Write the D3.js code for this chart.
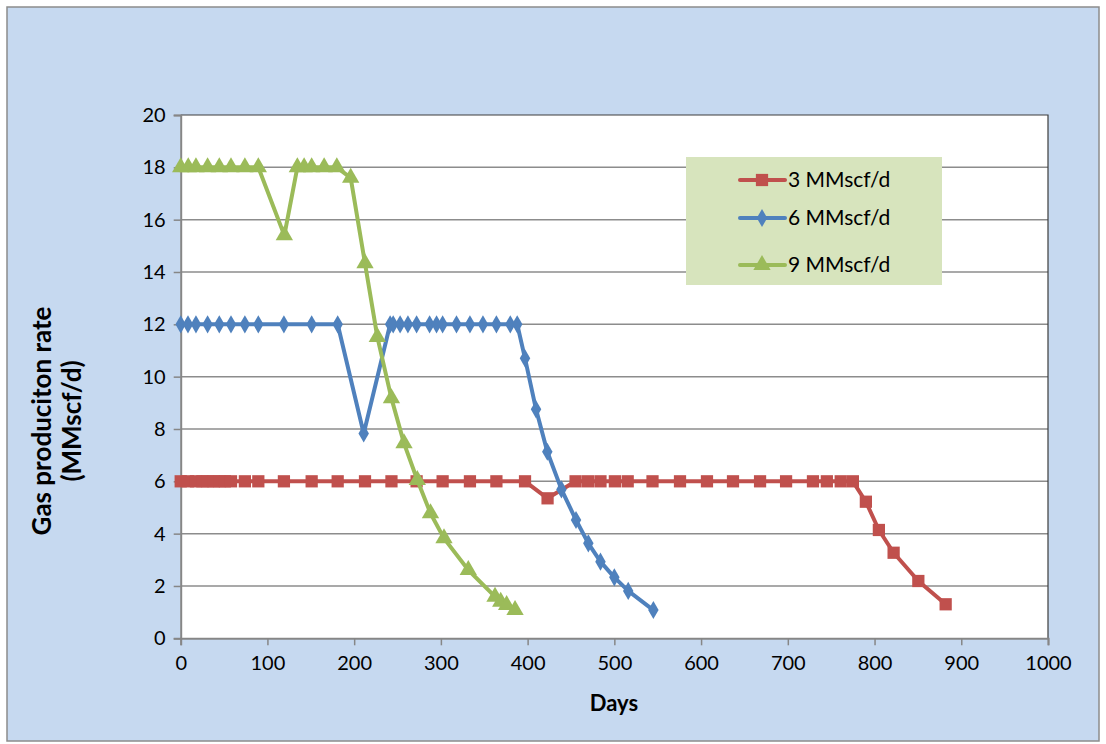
<!DOCTYPE html>
<html>
<head>
<meta charset="utf-8">
<script src="https://cdn.jsdelivr.net/npm/d3@7"></script>
<style>
  html, body { margin: 0; padding: 0; background: #ffffff; }
  svg { display: block; }
  text { font-family: Lato, "Open Sans", "Liberation Sans", sans-serif; fill: #000; }
</style>
</head>
<body>
<script>
// Production rate vs time for three target rates
const seriesNames = ["3 MMscf/d", "6 MMscf/d", "9 MMscf/d"];

const daysA = [0, 8.4, 17.6, 25, 31, 38, 44.5, 51, 58, 74, 89.5, 119, 151, 181, 212.5, 243, 272, 302, 333.5, 364, 397, 423, 455.3, 469.6, 484, 500.6, 515.4, 544, 575.7, 606.8, 636.8, 668, 698, 729, 745, 761, 775, 790, 805, 822, 850.5, 882];
const rateA = [6, 6, 6, 6, 6, 6, 6, 6, 6, 6, 6, 6, 6, 6, 6, 6, 6, 6, 6, 6, 6, 5.35, 6, 6, 6, 6, 6, 6, 6, 6, 6, 6, 6, 6, 6, 6, 6, 5.22, 4.14, 3.27, 2.19, 1.3];

const daysB = [0, 8.4, 17.6, 31, 44.5, 58, 74, 89.5, 119, 151, 181, 211, 241.5, 245, 253, 262, 272, 287, 295, 302, 318, 333.5, 348.5, 364, 380, 388, 397, 409.7, 422.7, 439, 455.8, 470, 484, 500, 516, 545];
const rateB = [12, 12, 12, 12, 12, 12, 12, 12, 12, 12, 12, 7.83, 12, 12, 12, 12, 12, 12, 12, 12, 12, 12, 12, 12, 12, 12, 10.7, 8.75, 7.13, 5.69, 4.52, 3.63, 2.93, 2.33, 1.81, 1.08];

const daysC = [0, 8.7, 17.6, 31, 44.5, 58, 74, 89.5, 119.5, 134.5, 142.3, 151, 165.4, 180, 196, 212.5, 226.7, 243, 257.5, 272.8, 288, 303.6, 331.6, 362.4, 369, 375.8, 385.5];
const rateC = [18, 18, 18, 18, 18, 18, 18, 18, 15.4, 18, 18, 18, 18, 18, 17.6, 14.33, 11.52, 9.17, 7.45, 6.05, 4.78, 3.82, 2.61, 1.59, 1.4, 1.27, 1.08];

const xTicks = [0, 100, 200, 300, 400, 500, 600, 700, 800, 900, 1000];
const yTicks = [0, 2, 4, 6, 8, 10, 12, 14, 16, 18, 20];

const W = 1106, H = 744;
const plot = { left: 180.7, right: 1048, top: 115, bottom: 638.3 };

const svg = d3.select("body").append("svg").attr("width", W).attr("height", H);

// chart area background and frame
svg.append("rect").attr("x", 0).attr("y", 0).attr("width", W).attr("height", H).attr("fill", "#ffffff");
svg.append("rect").attr("x", 7).attr("y", 7).attr("width", W - 14).attr("height", H - 10)
  .attr("fill", "#C6D9F0").attr("stroke", "#8c8c8c").attr("stroke-width", 1.5);

const x = d3.scaleLinear().domain([0, 1000]).range([plot.left, plot.right]);
const y = d3.scaleLinear().domain([0, 20]).range([plot.bottom, plot.top]);

// plot area
svg.append("rect").attr("x", plot.left).attr("y", plot.top)
  .attr("width", plot.right - plot.left).attr("height", plot.bottom - plot.top)
  .attr("fill", "#ffffff");

// horizontal gridlines
svg.append("g").selectAll("line").data(yTicks.filter(d => d > 0 && d < 20)).join("line")
  .attr("x1", plot.left).attr("x2", plot.right)
  .attr("y1", d => y(d)).attr("y2", d => y(d))
  .attr("stroke", "#8c8c8c").attr("stroke-width", 1.5);

// top and right border of plot area
svg.append("path")
  .attr("d", `M${plot.left},${plot.top}H${plot.right}V${plot.bottom}`)
  .attr("fill", "none").attr("stroke", "#3c3c3c").attr("stroke-width", 1.2);

// axes
const yAxis = svg.append("g").attr("transform", `translate(${plot.left},0)`)
  .call(d3.axisLeft(y).tickValues(yTicks).tickSize(7).tickPadding(8).tickFormat(d3.format("d")));
const xAxis = svg.append("g").attr("transform", `translate(0,${plot.bottom})`)
  .call(d3.axisBottom(x).tickValues(xTicks).tickSize(7).tickPadding(11).tickFormat(d3.format("d")));
[yAxis, xAxis].forEach(g => {
  g.select(".domain").attr("stroke", "#868686").attr("stroke-width", 2);
  g.selectAll(".tick line").attr("stroke", "#868686").attr("stroke-width", 1.5);
  g.selectAll(".tick text").attr("font-size", 20).attr("fill", "#000")
    .attr("font-family", "Lato, 'Open Sans', sans-serif");
});

// axis titles
svg.append("text").attr("x", 614).attr("y", 711).attr("text-anchor", "middle")
  .attr("font-size", 22).attr("font-weight", "bold").text("Days");
const yTitle = svg.append("text").attr("transform", "translate(0,421) rotate(-90)")
  .attr("text-anchor", "middle").attr("font-size", 26).attr("font-weight", "bold");
yTitle.append("tspan").attr("x", 0).attr("y", 51).text("Gas produciton rate");
yTitle.append("tspan").attr("x", 0).attr("y", 81).text("(MMscf/d)");

const colors = ["#C0504D", "#4F81BD", "#9BBB59"];
const symbols = [
  d3.symbol().type(d3.symbolSquare).size(150),
  d3.symbol().type(d3.symbolDiamond).size(95),
  d3.symbol().type(d3.symbolTriangle).size(130)
];

const series = [
  daysA.map((d, i) => ({ d, v: rateA[i] })),
  daysB.map((d, i) => ({ d, v: rateB[i] })),
  daysC.map((d, i) => ({ d, v: rateC[i] }))
];

const line = d3.line().x(p => x(p.d)).y(p => y(p.v));

series.forEach((pts, k) => {
  const g = svg.append("g");
  g.append("path").datum(pts).attr("d", line)
    .attr("fill", "none").attr("stroke", colors[k]).attr("stroke-width", 4)
    .attr("stroke-linejoin", "round");
  g.selectAll("path.m").data(pts).join("path").attr("class", "m")
    .attr("transform", p => `translate(${x(p.d)},${y(p.v)})`)
    .attr("d", symbols[k]()).attr("fill", colors[k]);
});

// legend
const lg = svg.append("g");
lg.append("rect").attr("x", 686).attr("y", 157).attr("width", 256).attr("height", 128).attr("fill", "#D7E4BD");
const legendY = [180, 218, 265];
seriesNames.forEach((name, k) => {
  const row = lg.append("g").attr("transform", `translate(0,${legendY[k]})`);
  row.append("line").attr("x1", 740).attr("x2", 785).attr("y1", 0).attr("y2", 0)
    .attr("stroke", colors[k]).attr("stroke-width", 4).attr("stroke-linecap", "round");
  row.append("path").attr("transform", "translate(762,0)").attr("d", symbols[k]()).attr("fill", colors[k]);
  row.append("text").attr("x", 788).attr("y", 0).attr("dy", "0.35em").attr("font-size", 21).text(name);
});
</script>
</body>
</html>
